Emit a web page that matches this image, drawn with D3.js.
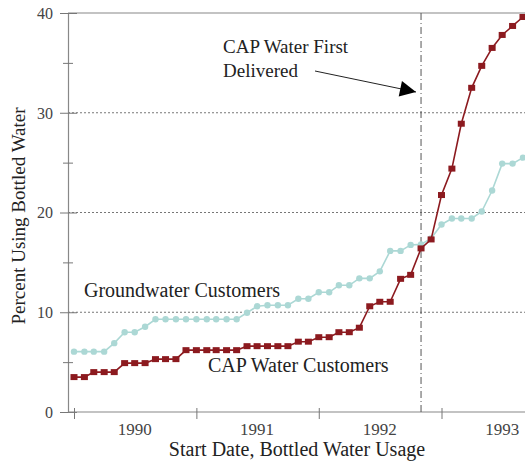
<!DOCTYPE html>
<html>
<head>
<meta charset="utf-8">
<script src="https://cdn.jsdelivr.net/npm/d3@7"></script>
<style>
  body { margin: 0; background: #fff; }
  text { font-family: "Liberation Serif", "DejaVu Serif", serif; }
</style>
</head>
<body>
<svg id="chart" width="525" height="461"></svg>
<script>
// monthly readings, Jan 1990 .. Sep 1993
const startMonth = new Date(1990, 0, 1);
const endMonth = new Date(1993, 8, 1);

const capValues = [3.5, 3.5, 4.0, 4.0, 4.0, 4.9, 4.9, 4.9, 5.3, 5.3, 5.3, 6.2,
  6.2, 6.2, 6.2, 6.2, 6.2, 6.6, 6.6, 6.6, 6.6, 6.6, 7.05, 7.05,
  7.5, 7.5, 8.0, 8.0, 8.45, 10.6, 11.05, 11.05, 13.35, 13.75, 16.4, 17.3,
  21.75, 24.4, 28.9, 32.5, 34.7, 36.5, 37.8, 38.7, 39.6];

const groundValues = [6.05, 6.05, 6.05, 6.05, 6.9, 8.0, 8.0, 8.55, 9.3, 9.3, 9.3, 9.3,
  9.3, 9.3, 9.3, 9.3, 9.3, 9.95, 10.6, 10.7, 10.7, 10.7, 11.35, 11.35,
  12.0, 12.0, 12.7, 12.7, 13.4, 13.4, 14.1, 16.15, 16.15, 16.75, 16.8, 17.4,
  18.8, 19.4, 19.4, 19.4, 20.1, 22.2, 24.9, 24.9, 25.5];

const yearLabels = [1990, 1991, 1992, 1993];
const yTicks = [0, 5, 10, 15, 20, 25, 30, 35, 40];
const yLabels = [0, 10, 20, 30, 40];
const deliveredDate = new Date(1992, 10, 1);

function init() {
    const svg = d3.select("#chart");
    const left = 68, right = 525, top = 13, bottom = 412;

    const months = d3.timeMonth.range(startMonth, d3.timeMonth.offset(endMonth, 1));

    const x = d3.scaleTime()
        .domain([new Date(1990, 0, 1), new Date(1993, 0, 1)])
        .range([74, 441.5]);
    const y = d3.scaleLinear().domain([0, 40]).range([bottom, top]);

    // dotted grid lines
    svg.append("g")
        .selectAll("line")
        .data([10, 20, 30])
        .join("line")
        .attr("x1", left).attr("x2", right)
        .attr("y1", d => y(d)).attr("y2", d => y(d))
        .attr("stroke", "#777")
        .attr("stroke-width", 1)
        .attr("stroke-dasharray", "2,2");

    // top frame line
    svg.append("line")
        .attr("x1", left).attr("x2", right)
        .attr("y1", y(40)).attr("y2", y(40))
        .attr("stroke", "#888").attr("stroke-width", 1.2);

    // y axis
    const yAxis = svg.append("g")
        .attr("transform", `translate(${left},0)`)
        .call(d3.axisLeft(y).tickValues(yTicks).tickSize(0).tickFormat(""));
    yAxis.select(".domain").attr("stroke", "#888").attr("stroke-width", 1.2);
    yAxis.selectAll(".tick line")
        .attr("x1", d => yLabels.includes(d) ? -8 : -5)
        .attr("x2", d => yLabels.includes(d) ? 9 : 5)
        .attr("stroke", "#777");
    yAxis.selectAll(".tick")
        .filter(d => yLabels.includes(d))
        .append("text")
        .attr("x", -15)
        .attr("dy", "0.34em")
        .attr("text-anchor", "end")
        .attr("fill", "#444")
        .attr("font-size", "16px")
        .text(d => d);

    // x axis: ticks on year boundaries, labels mid-year
    const xAxis = svg.append("g")
        .attr("transform", `translate(0,${bottom})`)
        .call(d3.axisBottom(x)
            .tickValues(yearLabels.map(yr => new Date(yr, 0, 1)))
            .tickSize(0).tickFormat(""));
    xAxis.select(".domain").attr("d", `M${left},0H${right}`)
        .attr("stroke", "#888").attr("stroke-width", 1.2);
    xAxis.selectAll(".tick line").attr("y1", -4).attr("y2", 7).attr("stroke", "#777");
    svg.append("g")
        .selectAll("text")
        .data(yearLabels)
        .join("text")
        .attr("x", d => x(new Date(d, 6, 1)))
        .attr("y", 435)
        .attr("text-anchor", "middle")
        .attr("fill", "#444")
        .attr("font-size", "17px")
        .text(d => d);

    // axis titles
    svg.append("text")
        .attr("transform", "translate(25,216) rotate(-90)")
        .attr("text-anchor", "middle")
        .attr("fill", "#222")
        .attr("font-size", "19px")
        .text("Percent Using Bottled Water");
    svg.append("text")
        .attr("x", 297)
        .attr("y", 456)
        .attr("text-anchor", "middle")
        .attr("fill", "#222")
        .attr("font-size", "20px")
        .text("Start Date, Bottled Water Usage");

    // CAP delivery marker
    svg.append("line")
        .attr("x1", x(deliveredDate)).attr("x2", x(deliveredDate))
        .attr("y1", top).attr("y2", bottom)
        .attr("stroke", "#555")
        .attr("stroke-width", 1)
        .attr("stroke-dasharray", "7,3,1,3");

    const line = d3.line().x((d, i) => x(months[i])).y(d => y(d));

    // groundwater series
    svg.append("path")
        .datum(groundValues)
        .attr("d", line)
        .attr("fill", "none")
        .attr("stroke", "#acd8d5")
        .attr("stroke-width", 1.6);
    svg.append("g")
        .selectAll("circle")
        .data(groundValues)
        .join("circle")
        .attr("cx", (d, i) => x(months[i]))
        .attr("cy", d => y(d))
        .attr("r", 3.2)
        .attr("fill", "#acd8d5");

    // CAP series
    svg.append("path")
        .datum(capValues)
        .attr("d", line)
        .attr("fill", "none")
        .attr("stroke", "#8c1a1f")
        .attr("stroke-width", 1.6);
    svg.append("g")
        .selectAll("rect")
        .data(capValues)
        .join("rect")
        .attr("x", (d, i) => x(months[i]) - 3.5)
        .attr("y", d => y(d) - 3)
        .attr("width", 7)
        .attr("height", 6)
        .attr("fill", "#8c1a1f");

    // annotations
    svg.append("text")
        .attr("x", 223).attr("y", 53)
        .attr("font-size", "19px").attr("fill", "#222")
        .text("CAP Water First");
    svg.append("text")
        .attr("x", 223).attr("y", 77)
        .attr("font-size", "19px").attr("fill", "#222")
        .text("Delivered");
    svg.append("text")
        .attr("x", 84).attr("y", 297)
        .attr("font-size", "20px").attr("fill", "#222")
        .text("Groundwater Customers");
    svg.append("text")
        .attr("x", 208).attr("y", 372)
        .attr("font-size", "20px").attr("fill", "#222")
        .text("CAP Water Customers");

    // arrow
    svg.append("defs").append("marker")
        .attr("id", "head")
        .attr("viewBox", "0 0 10 10")
        .attr("refX", 10).attr("refY", 5)
        .attr("markerWidth", 24).attr("markerHeight", 16)
        .attr("markerUnits", "userSpaceOnUse")
        .attr("orient", "auto")
        .append("path")
        .attr("d", "M0,0L10,5L0,10Z")
        .attr("fill", "#000");
    svg.append("line")
        .attr("x1", 315).attr("y1", 71)
        .attr("x2", 416).attr("y2", 92)
        .attr("stroke", "#222")
        .attr("stroke-width", 1)
        .attr("marker-end", "url(#head)");
}

window.onload = init;
</script>
</body>
</html>
